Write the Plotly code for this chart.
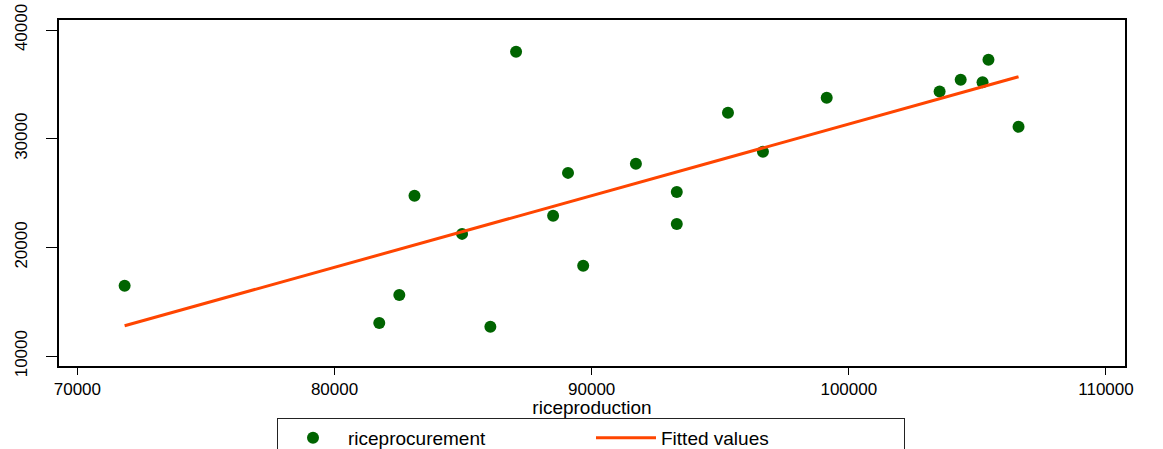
import plotly.graph_objects as go

# Data
rice_production = [71837, 81740, 82520, 83110, 84960, 86060, 87060, 88500, 89080,
                   89670, 91720, 93310, 93310, 95300, 96660, 99140, 103530,
                   104350, 105200, 105430, 106600]
rice_procurement = [16470, 13060, 15640, 24750, 21250, 12700, 37990, 22910, 26860,
                    18310, 27690, 25110, 22160, 32390, 28800, 33780, 34340,
                    35420, 35200, 37260, 31100]

fit_x = [71837, 106600]
fit_y = [12800, 35700]

x_ticks = [70000, 80000, 90000, 100000, 110000]
y_ticks = [10000, 20000, 30000, 40000]

fig = go.Figure()
fig.add_trace(go.Scatter(
    x=rice_production, y=rice_procurement, mode="markers",
    name="riceprocurement",
    marker=dict(color="#006400", size=12, line=dict(width=0)),
))
fig.add_trace(go.Scatter(
    x=fit_x, y=fit_y, mode="lines", name="Fitted values",
    line=dict(color="#FF4500", width=3),
))

font_family = "Liberation Sans, Arial, sans-serif"

fig.update_layout(
    width=1163, height=449,
    margin=dict(l=59, r=38, t=20, b=83, autoexpand=False),
    paper_bgcolor="white", plot_bgcolor="white",
    font=dict(family=font_family, color="black", size=17),
    showlegend=True,
    legend=dict(
        orientation="h", xref="container", yref="container",
        x=591 / 1163, xanchor="center", y=1 - 418 / 449, yanchor="top",
        bordercolor="#222222", borderwidth=1, bgcolor="white",
        font=dict(size=19, family=font_family),
        entrywidth=238, entrywidthmode="pixels", itemwidth=60,
        traceorder="normal", tracegroupgap=0,
    ),
    xaxis=dict(
        range=[69285, 110740], tickvals=x_ticks,
        ticktext=[str(v) for v in x_ticks],
        showgrid=False, zeroline=False,
        showline=True, linecolor="black", linewidth=1.5, mirror=True,
        ticks="outside", ticklen=7, tickcolor="black", tickwidth=1.2,
        tickfont=dict(size=17),
        title=dict(text="riceproduction", font=dict(size=19), standoff=3),
    ),
    yaxis=dict(
        range=[9100, 40920], tickvals=y_ticks,
        ticktext=[str(v) for v in y_ticks],
        showgrid=False, zeroline=False,
        showline=True, linecolor="black", linewidth=1.5, mirror=True,
        ticks="outside", ticklen=11, tickcolor="black", tickwidth=1.2,
        tickangle=-90, tickfont=dict(size=17), ticklabelstandoff=12,
    ),
)

fig.write_html(
    "out.html",
    config={"displayModeBar": False},
    post_script="document.body.style.margin='0';document.body.style.overflow='hidden';",
)
